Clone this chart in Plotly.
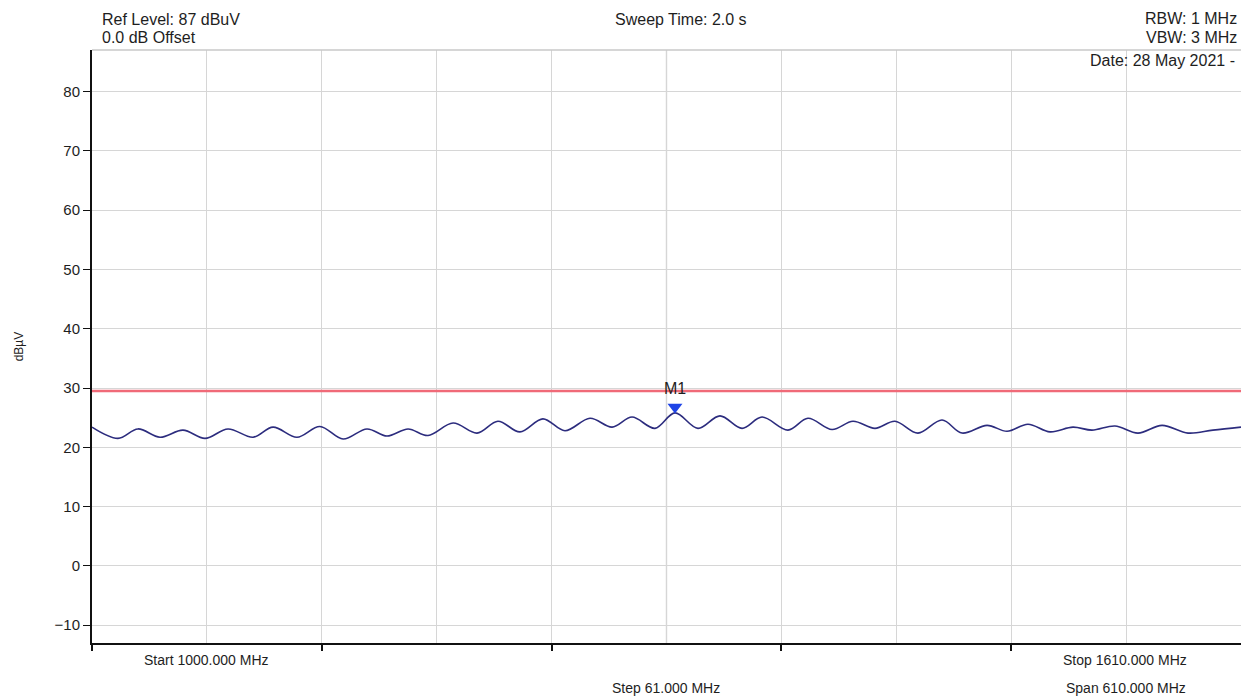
import plotly.graph_objects as go

# Sweep settings
start_mhz = 1000.0
stop_mhz = 1610.0
step_mhz = 61.0
ref_level = 87
bottom_level = -13
y_ticks = [-10, 0, 10, 20, 30, 40, 50, 60, 70, 80]

# Measured trace (frequency in MHz, level in dBuV)
freq_mhz = [1000.0, 1013.8, 1024.4, 1036.1, 1048.3, 1060.0, 1072.2, 1085.5, 1096.1, 1108.8,
            1121.0, 1133.3, 1146.0, 1156.6, 1167.8, 1178.4, 1191.7, 1204.4, 1215.5, 1227.2,
            1239.4, 1251.1, 1264.4, 1276.1, 1286.7, 1298.9, 1309.5, 1321.7, 1333.4, 1345.1,
            1355.7, 1369.5, 1380.1, 1392.9, 1404.0, 1415.7, 1426.3, 1438.5, 1451.3, 1461.9,
            1475.2, 1485.8, 1496.9, 1508.6, 1520.8, 1530.9, 1543.1, 1555.3, 1568.1, 1581.9,
            1595.1, 1610.0]
level_dbuv = [23.4, 21.5, 23.1, 21.7, 22.9, 21.5, 23.1, 21.7, 23.4, 21.7,
              23.5, 21.4, 23.1, 21.9, 23.1, 22.0, 24.1, 22.4, 24.4, 22.6,
              24.8, 22.8, 24.9, 23.4, 25.1, 23.2, 25.8, 23.2, 25.3, 23.2,
              25.1, 22.9, 24.9, 23.0, 24.4, 23.2, 24.4, 22.4, 24.6, 22.4,
              23.7, 22.7, 23.9, 22.6, 23.4, 22.9, 23.6, 22.4, 23.7, 22.4,
              22.9, 23.4]

# Limit line and marker
limit_dbuv = 29.5
marker_name = "M1"
marker_freq = 1309.5
marker_level = 25.8

FONT = "Liberation Sans, Arial, sans-serif"
TXT = "#1e1e1e"

fig = go.Figure()

# limit line
fig.add_trace(go.Scatter(
    x=[start_mhz, stop_mhz], y=[limit_dbuv, limit_dbuv], mode="lines",
    line=dict(color="#f06a78", width=2.5), hoverinfo="skip"))

# trace
fig.add_trace(go.Scatter(
    x=freq_mhz, y=level_dbuv, mode="lines",
    line=dict(color="#2c2c7e", width=1.6, shape="spline", smoothing=1.0)))

# marker triangle sits just above the peak
fig.add_trace(go.Scatter(
    x=[marker_freq], y=[marker_level + 1.0], mode="markers",
    marker=dict(symbol="triangle-down", size=13, color="#1f44e6",
                line=dict(width=0)), hoverinfo="skip"))

center = (start_mhz + stop_mhz) / 2
grid_x = [start_mhz + i * step_mhz for i in range(11)]

shapes = [
    # darker centre graticule line
    dict(type="line", xref="x", yref="y domain", x0=center, x1=center, y0=0, y1=1,
         line=dict(color="#a8a8a8", width=1.2), layer="below"),
    # top frame line
    dict(type="line", xref="paper", yref="y domain", x0=0, x1=1, y0=1, y1=1,
         line=dict(color="#c8c8c8", width=1.5)),
]

fig.update_layout(
    width=1241, height=698,
    margin=dict(l=92, r=0, t=50, b=55),
    paper_bgcolor="white", plot_bgcolor="white",
    showlegend=False,
    font=dict(family=FONT, color=TXT, size=14),
    shapes=shapes,
    xaxis=dict(
        range=[start_mhz, stop_mhz],
        tickvals=grid_x, showticklabels=False, ticks="",
        showgrid=True, gridcolor="#d6d6d6", gridwidth=1,
        showline=True, linecolor="#111111", linewidth=2,
        zeroline=False,
        minor=dict(tickvals=[start_mhz + i * 2 * step_mhz for i in range(5)],
                   ticks="outside", ticklen=6, tickcolor="#111111", tickwidth=1.5,
                   showgrid=False),
    ),
    yaxis=dict(
        range=[bottom_level, ref_level],
        tickvals=y_ticks, ticks="outside", ticklen=7, tickcolor="#111111", tickwidth=1.2,
        tickfont=dict(size=15, color=TXT),
        showgrid=True, gridcolor="#d6d6d6", gridwidth=1,
        showline=True, linecolor="#111111", linewidth=2,
        zeroline=False,
        title=dict(text="dBµV", font=dict(size=12, color=TXT), standoff=28),
    ),
)

def note(text, x, y, xanchor, size=16, xref="paper", yref="paper"):
    fig.add_annotation(text=text, x=x, y=y, xref=xref, yref=yref,
                       xanchor=xanchor, yanchor="middle", showarrow=False,
                       font=dict(size=size, color=TXT, family=FONT))

W = 1241.0
def px(xp):
    return (xp - 92) / (W - 92)

# header lines
note("Ref Level: 87 dBuV", px(100), 1 + (50 - 19) / 593, "left")
note("0.0 dB Offset", px(100), 1 + (50 - 38) / 593, "left")
note("Sweep Time: 2.0 s", px(681), 1 + (50 - 19) / 593, "center")
note("RBW: 1 MHz", px(1239), 1 + (50 - 18) / 593, "right")
note("VBW: 3 MHz", px(1239), 1 + (50 - 38) / 593, "right")
note("Date: 28 May 2021 -", px(1237), 1 + (50 - 60) / 593, "right")

# footer lines
note("Start 1000.000 MHz", px(206), -(660 - 643) / 593, "center", size=14)
note("Stop 1610.000 MHz", px(1125), -(660 - 643) / 593, "center", size=14)
note("Step 61.000 MHz", px(666), -(688 - 643) / 593, "center", size=14)
note("Span 610.000 MHz", px(1126), -(688 - 643) / 593, "center", size=14)

# marker label
fig.add_annotation(text=marker_name, x=marker_freq, y=marker_level + 1.0,
                   xref="x", yref="y", showarrow=False, yanchor="bottom",
                   yshift=8, font=dict(size=16, color=TXT, family=FONT))

fig.write_html("out.html")
